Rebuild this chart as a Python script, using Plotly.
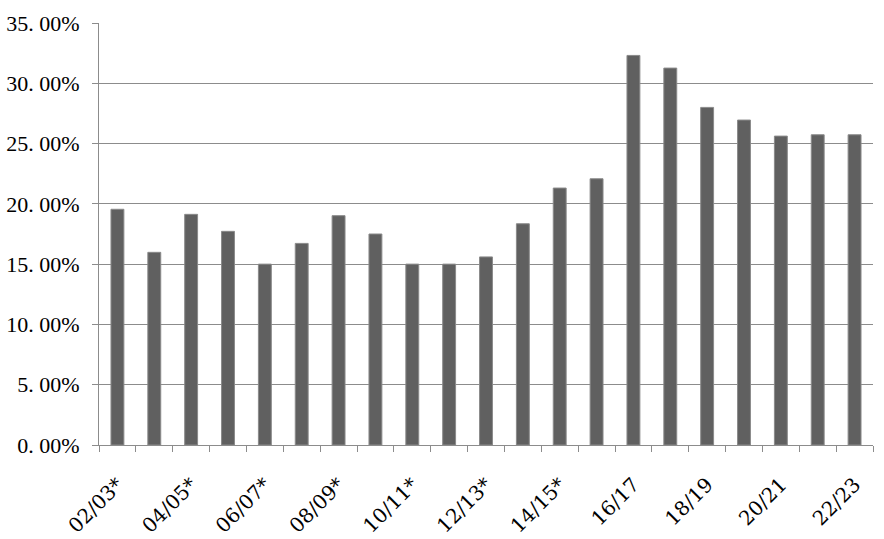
import plotly.graph_objects as go

categories = ["02/03*", "03/04*", "04/05*", "05/06*", "06/07*", "07/08*", "08/09*",
              "09/10*", "10/11*", "11/12*", "12/13*", "13/14*", "14/15*", "15/16",
              "16/17", "17/18", "18/19", "19/20", "20/21", "21/22", "22/23"]
values = [19.55, 15.98, 19.13, 17.72, 15.0, 16.72, 19.02,
          17.5, 15.0, 15.0, 15.6, 18.35, 21.31, 22.08,
          32.31, 31.26, 28.0, 26.95, 25.62, 25.73, 25.73]
x_ticktext = [c if i % 2 == 0 else "" for i, c in enumerate(categories)]
y_tickvals = [0, 5, 10, 15, 20, 25, 30, 35]
y_ticktext = ["0. 00%", "5. 00%", "10. 00%", "15. 00%", "20. 00%", "25. 00%", "30. 00%", "35. 00%"]

fig = go.Figure(go.Bar(
    x=categories, y=values,
    marker=dict(color="#606060", line=dict(color="#8a8a8a", width=1)),
    width=0.35,
))

fig.update_layout(
    width=884, height=539,
    margin=dict(l=99, r=11, t=23, b=94, autoexpand=False),
    paper_bgcolor="white", plot_bgcolor="white",
    showlegend=False,
    font=dict(family="Liberation Serif", color="#000000"),
)
fig.update_xaxes(
    type="category", automargin=False,
    tickmode="array", tickvals=categories, ticktext=x_ticktext,
    tickangle=-45, tickfont=dict(size=20, family="DejaVu Serif"),
    tickson="boundaries", ticks="outside", ticklen=6, tickcolor="#8c8c8c",
    ticklabelstandoff=19,
    showline=True, linecolor="#8c8c8c", linewidth=1,
    showgrid=False, range=[-0.5, 20.5],
)
fig.update_yaxes(
    automargin=False,
    range=[0, 35], tickmode="array", tickvals=y_tickvals, ticktext=y_ticktext,
    tickfont=dict(size=22, family="Liberation Serif"),
    ticks="outside", ticklen=6, tickcolor="#8c8c8c",
    ticklabelstandoff=8,
    showline=True, linecolor="#8c8c8c", linewidth=1,
    showgrid=True, gridcolor="#8c8c8c", gridwidth=1,
    zeroline=False,
)
fig.write_html("out.html", config={"displayModeBar": False},
               post_script="document.body.style.margin='0';window.dispatchEvent(new Event('resize'));")
